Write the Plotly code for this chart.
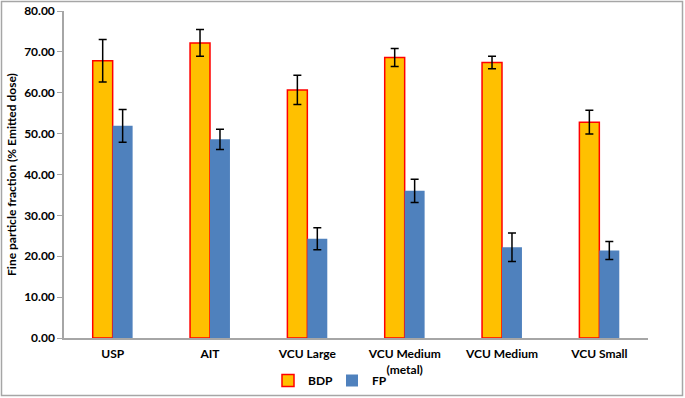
import plotly.graph_objects as go

categories = ["USP", "AIT", "VCU Large", "VCU Medium<br>(metal)", "VCU Medium", "VCU Small"]
bdp_values = [67.8, 72.2, 60.7, 68.6, 67.4, 52.8]
bdp_errors = [5.2, 3.3, 3.6, 2.2, 1.5, 2.9]
fp_values = [51.9, 48.6, 24.3, 36.0, 22.2, 21.4]
fp_errors = [4.0, 2.5, 2.7, 2.85, 3.5, 2.2]
y_ticks = [0, 10, 20, 30, 40, 50, 60, 70, 80]

W, H = 685, 398
ML, MR, MT, MB = 64, 37, 11, 60

fig = go.Figure()
fig.add_trace(go.Bar(
    x=categories, y=bdp_values, name="BDP",
    marker=dict(color="#FFC000", line=dict(color="#FF0000", width=1.5)),
    error_y=dict(type="data", array=bdp_errors, color="#000000", thickness=1.5, width=4),
))
fig.add_trace(go.Bar(
    x=categories, y=fp_values, name="FP",
    marker=dict(color="#4F81BD", line=dict(color="#4F81BD", width=0)),
    error_y=dict(type="data", array=fp_errors, color="#000000", thickness=1.5, width=4),
))

pw = W - ML - MR
ph = H - MT - MB
fig.add_shape(type="rect", xref="paper", yref="paper",
              x0=-(ML - 1.5) / pw, x1=1 + (MR - 2.5) / pw,
              y0=-(MB - 2.5) / ph, y1=1 + (MT - 1.5) / ph,
              line=dict(color="#A6A6A6", width=1.5), fillcolor="rgba(0,0,0,0)", layer="below")

fig.update_layout(
    width=W, height=H,
    margin=dict(l=ML, r=MR, t=MT, b=MB, autoexpand=False),
    paper_bgcolor="white", plot_bgcolor="white",
    barmode="group", bargap=0.59, bargroupgap=0,
    font=dict(family="Lato, Open Sans, sans-serif", color="#000000"),
    showlegend=True,
    legend=dict(orientation="h", x=(268 - ML) / pw, xanchor="left",
                y=-(366 - (H - MB)) / ph, yanchor="top",
                bgcolor="rgba(0,0,0,0)",
                font=dict(size=12, family="Lato, sans-serif", weight="bold"),
                traceorder="normal", itemwidth=30, entrywidth=19),
    xaxis=dict(showline=True, linecolor="#A6A6A6", linewidth=1.5, ticks="",
               tickfont=dict(size=12, weight="bold"), showgrid=False, automargin=False,
               ticklabelstandoff=4),
    yaxis=dict(range=[0, 80], tickvals=y_ticks, tickformat=".2f",
               showline=True, linecolor="#A6A6A6", linewidth=1.5,
               ticks="outside", ticklen=5, tickcolor="#A6A6A6",
               tickfont=dict(size=12, weight="bold"), showgrid=False, zeroline=False,
               automargin=False,
               title=dict(text="Fine particle fraction (% Emitted dose)",
                          font=dict(size=12, weight="bold"), standoff=5)),
)

fig.write_html("out.html", config={"displayModeBar": False},
               post_script="document.body.style.margin='0';document.body.style.overflow='hidden';")
